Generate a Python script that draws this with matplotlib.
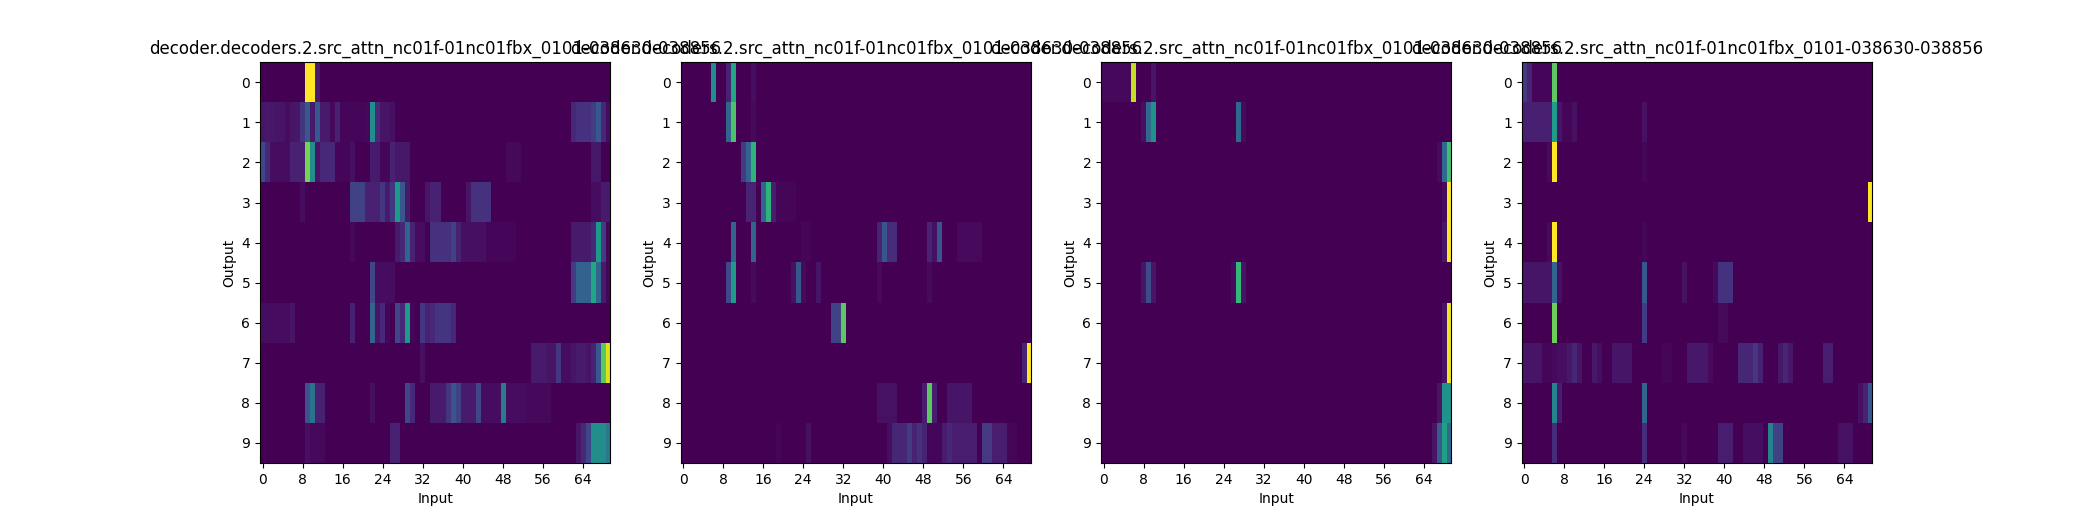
import numpy as np
import matplotlib
matplotlib.use("Agg")
import matplotlib.pyplot as plt

title = "decoder.decoders.2.src_attn_nc01f-01nc01fbx_0101-038630-038856"
n_out = 10
n_in = 70
xticks = list(range(0, 65, 8))
yticks = list(range(10))

# Sparse attention weights per panel: one dict per output row {input_index: weight}
panel1 = [
    {9: 1.0, 10: 1.0, 11: 0.08},
    {0: 0.06, 1: 0.07, 2: 0.07, 3: 0.06, 4: 0.06, 5: 0.04, 6: 0.06, 7: 0.07, 8: 0.16, 9: 0.28, 10: 0.08,
     11: 0.28, 12: 0.08, 13: 0.08, 14: 0.03, 15: 0.1, 16: 0.02, 17: 0.02, 18: 0.02, 19: 0.02, 20: 0.02,
     21: 0.03, 22: 0.5, 23: 0.13, 24: 0.06, 25: 0.06, 26: 0.05, 62: 0.12, 63: 0.15, 64: 0.15,
     65: 0.15, 66: 0.18, 67: 0.28, 68: 0.12, 69: 0.04},
    {0: 0.22, 1: 0.12, 2: 0.04, 3: 0.04, 4: 0.04, 5: 0.04, 6: 0.1, 7: 0.1, 8: 0.1, 9: 0.8,
     10: 0.5, 11: 0.06, 12: 0.12, 13: 0.12, 14: 0.12, 15: 0.02, 16: 0.02, 17: 0.02, 18: 0.05,
     22: 0.08, 23: 0.08, 24: 0.02, 25: 0.02, 26: 0.1, 27: 0.07, 28: 0.07, 29: 0.07, 49: 0.03,
     50: 0.03, 51: 0.03, 66: 0.07, 67: 0.07},
    {8: 0.04, 18: 0.2, 19: 0.2, 20: 0.2, 21: 0.1, 22: 0.1, 23: 0.1, 24: 0.17, 25: 0.08,
     26: 0.17, 27: 0.55, 28: 0.28, 29: 0.08, 33: 0.06, 34: 0.1, 35: 0.1, 41: 0.06, 42: 0.15,
     43: 0.15, 44: 0.15, 45: 0.15, 66: 0.04, 67: 0.04, 68: 0.08, 69: 0.08},
    {18: 0.03, 27: 0.08, 28: 0.12, 29: 0.33, 30: 0.1, 31: 0.04, 32: 0.04, 34: 0.15, 35: 0.15,
     36: 0.15, 37: 0.15, 38: 0.2, 39: 0.1, 40: 0.05, 41: 0.05, 42: 0.05, 43: 0.05, 44: 0.05,
     45: 0.02, 46: 0.02, 47: 0.02, 48: 0.02, 49: 0.02, 50: 0.02, 62: 0.08, 63: 0.08, 64: 0.08,
     65: 0.08, 66: 0.12, 67: 0.55, 68: 0.18, 69: 0.02},
    {22: 0.22, 23: 0.04, 24: 0.04, 25: 0.04, 26: 0.04, 62: 0.18, 63: 0.32, 64: 0.32, 65: 0.32,
     66: 0.6, 67: 0.33, 68: 0.08, 69: 0.02},
    {0: 0.04, 1: 0.04, 2: 0.04, 3: 0.04, 4: 0.04, 5: 0.04, 6: 0.06, 18: 0.1, 22: 0.33, 23: 0.06,
     24: 0.12, 25: 0.02, 27: 0.22, 28: 0.12, 29: 0.55, 30: 0.02, 32: 0.17, 33: 0.1, 34: 0.12,
     35: 0.16, 36: 0.16, 37: 0.16, 38: 0.12},
    {32: 0.05, 54: 0.08, 55: 0.08, 56: 0.08, 57: 0.06, 58: 0.06, 59: 0.17, 60: 0.04, 61: 0.04,
     62: 0.06, 63: 0.08, 64: 0.08, 65: 0.06, 66: 0.1, 67: 0.28, 68: 0.75, 69: 0.95},
    {9: 0.27, 10: 0.38, 11: 0.1, 12: 0.1, 22: 0.05, 29: 0.22, 30: 0.12, 34: 0.08, 35: 0.08,
     36: 0.08, 37: 0.16, 38: 0.26, 39: 0.2, 40: 0.08, 41: 0.08, 42: 0.08, 43: 0.22, 44: 0.04,
     45: 0.04, 46: 0.04, 47: 0.04, 48: 0.43, 49: 0.04, 50: 0.04, 51: 0.04, 52: 0.04, 53: 0.03,
     54: 0.03, 55: 0.03, 56: 0.03, 57: 0.03},
    {9: 0.05, 10: 0.03, 11: 0.03, 12: 0.03, 26: 0.1, 27: 0.1, 63: 0.06, 64: 0.12, 65: 0.22,
     66: 0.5, 67: 0.5, 68: 0.5, 69: 0.4},
]

panel2 = [
    {6: 0.5, 9: 0.1, 10: 0.6, 14: 0.04},
    {9: 0.33, 10: 0.72, 14: 0.03},
    {12: 0.18, 13: 0.33, 14: 0.65},
    {13: 0.1, 14: 0.1, 16: 0.33, 17: 0.65, 18: 0.08, 19: 0.02, 20: 0.02, 21: 0.02, 22: 0.02},
    {10: 0.33, 14: 0.33, 24: 0.02, 25: 0.02, 39: 0.1, 40: 0.27, 41: 0.13, 42: 0.13, 49: 0.1,
     50: 0.05, 51: 0.27, 55: 0.03, 56: 0.03, 57: 0.03, 58: 0.03, 59: 0.03},
    {9: 0.22, 10: 0.55, 14: 0.03, 22: 0.05, 23: 0.28, 24: 0.03, 27: 0.06, 39: 0.03, 49: 0.03},
    {30: 0.2, 31: 0.2, 32: 0.75},
    {68: 0.1, 69: 1.0},
    {39: 0.05, 40: 0.05, 41: 0.05, 42: 0.05, 48: 0.08, 49: 0.75, 50: 0.08, 53: 0.06, 54: 0.06,
     55: 0.06, 56: 0.06, 57: 0.06},
    {19: 0.02, 25: 0.05, 41: 0.04, 42: 0.11, 43: 0.11, 44: 0.11, 45: 0.18, 46: 0.1, 47: 0.15,
     48: 0.1, 49: 0.02, 50: 0.02, 51: 0.02, 52: 0.08, 53: 0.12, 54: 0.08, 55: 0.08, 56: 0.08,
     57: 0.08, 58: 0.08, 60: 0.17, 61: 0.17, 62: 0.08, 63: 0.08, 64: 0.08, 65: 0.02, 66: 0.02},
]

panel3 = [
    {0: 0.02, 1: 0.02, 2: 0.02, 3: 0.02, 4: 0.02, 5: 0.02, 6: 0.88, 10: 0.05},
    {8: 0.04, 9: 0.33, 10: 0.5, 27: 0.33, 28: 0.03},
    {67: 0.03, 68: 0.33, 69: 0.68},
    {68: 0.03, 69: 0.97},
    {68: 0.06, 69: 0.97},
    {8: 0.05, 9: 0.22, 10: 0.05, 26: 0.03, 27: 0.65, 28: 0.05},
    {68: 0.05, 69: 0.95},
    {68: 0.05, 69: 0.95},
    {67: 0.05, 68: 0.5, 69: 0.5},
    {66: 0.05, 67: 0.28, 68: 0.55, 69: 0.33},
]

panel4 = [
    {0: 0.17, 1: 0.1, 2: 0.02, 3: 0.02, 4: 0.02, 5: 0.02, 6: 0.75},
    {0: 0.09, 1: 0.09, 2: 0.09, 3: 0.09, 4: 0.09, 5: 0.09, 6: 0.55, 7: 0.06, 8: 0.02, 9: 0.02,
     10: 0.05, 24: 0.05},
    {5: 0.03, 6: 1.0, 24: 0.02},
    {69: 1.0},
    {5: 0.03, 6: 1.0, 24: 0.02},
    {0: 0.06, 1: 0.06, 2: 0.06, 3: 0.06, 4: 0.06, 5: 0.06, 6: 0.33, 7: 0.05, 24: 0.28, 32: 0.05,
     38: 0.03, 39: 0.15, 40: 0.15, 41: 0.15},
    {6: 0.78, 24: 0.18, 39: 0.03, 40: 0.03},
    {0: 0.06, 1: 0.06, 2: 0.06, 3: 0.06, 4: 0.02, 5: 0.02, 6: 0.03, 7: 0.04, 8: 0.04, 9: 0.07,
     10: 0.11, 11: 0.06, 14: 0.07, 15: 0.04, 18: 0.06, 19: 0.06, 20: 0.06, 21: 0.06, 28: 0.02,
     29: 0.02, 33: 0.07, 34: 0.07, 35: 0.07, 36: 0.07, 37: 0.03, 43: 0.11, 44: 0.11, 45: 0.11,
     46: 0.16, 47: 0.09, 51: 0.07, 52: 0.11, 53: 0.07, 60: 0.08, 61: 0.08},
    {6: 0.45, 7: 0.08, 24: 0.33, 67: 0.05, 68: 0.1, 69: 0.28},
    {6: 0.13, 24: 0.13, 32: 0.03, 39: 0.08, 40: 0.08, 41: 0.08, 44: 0.04, 45: 0.04, 46: 0.04,
     47: 0.04, 49: 0.45, 50: 0.2, 51: 0.2, 63: 0.05, 64: 0.05, 65: 0.05},
]

baselines = [0.008, 0.004, 0.0, 0.004]
panels = [panel1, panel2, panel3, panel4]


def to_matrix(rows, base):
    m = np.full((n_out, n_in), base)
    for r, d in enumerate(rows):
        for c, v in d.items():
            m[r, c] = v
    return m


fig, axes = plt.subplots(1, 4, figsize=(20.8, 5.2), dpi=100)
for ax, rows, base in zip(axes, panels, baselines):
    mat = to_matrix(rows, base)
    ax.imshow(mat, aspect="auto", cmap="viridis", interpolation="nearest")
    ax.set_title(title, fontsize=12)
    ax.set_xlabel("Input")
    ax.set_ylabel("Output")
    ax.set_xticks(xticks)
    ax.set_yticks(yticks)

fig.savefig("out.png", dpi=100)
